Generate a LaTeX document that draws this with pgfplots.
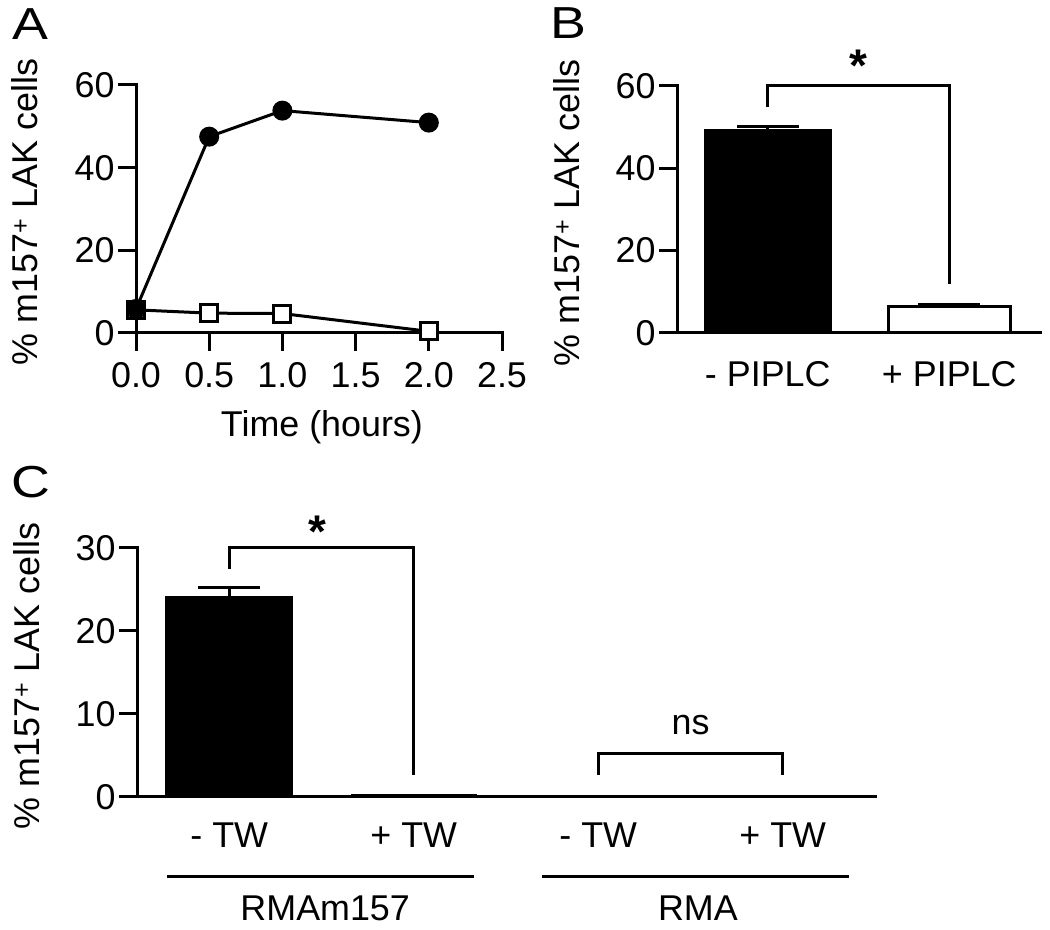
\documentclass[border=0pt]{standalone}
\usepackage{fontspec}
\setmainfont{Liberation Sans}
\usepackage{graphicx}
\usepackage{pgfplots}
\pgfplotsset{compat=1.18}
\pgfplotsset{
  gp/.style={
    scale only axis,
    anchor=south west,
    axis lines=left,
    axis line style={-, line width=3bp, line cap=rect},
    tick style={line width=3bp, black},
    tick align=outside,
    major tick length=18bp,
    /pgf/number format/assume math mode=true,
    tick label style={font=\fontsize{36}{42}\selectfont},
    label style={font=\fontsize{36}{42}\selectfont},
    clip=false,
  },
  eb/.style={forget plot, draw=none, mark=none,
    error bars/.cd, y dir=plus, y explicit, error mark=-,
    error bar style={draw=black, line width=3bp},
    error mark options={draw=black, rotate=90, mark size=#1, line width=3bp}},
}
\newcommand{\ylab}{\% m157\textsuperscript{+} LAK cells}
\newcommand{\plab}[1]{\scalebox{1.2}[1]{#1}}
\begin{document}
\begin{tikzpicture}[x=1bp,y=1bp]
\useasboundingbox (0,0) rectangle (1050,930);

% ---------------- Panel A ----------------
\begin{axis}[gp, at={(136bp,597bp)}, width=366bp, height=248bp,
  xmin=0, xmax=2.5, ymin=0, ymax=60,
  xtick={0,0.5,1,1.5,2,2.5}, ytick={0,20,40,60},
  xticklabel style={yshift=-8bp, /pgf/number format/.cd, fixed, fixed zerofill, precision=1},
  xlabel={Time (hours)},
  xlabel style={at={(axis description cs:0.508,-0.418)}, anchor=base},
  ylabel={\ylab},
  ylabel style={at={(axis description cs:-0.303,0.488)}, anchor=center},
]
\addplot[black, line width=3bp, mark=square*, mark size=8.5bp,
  mark options={fill=white, line width=3bp}]
  coordinates {(0,5.6) (0.5,4.8) (1,4.7) (2,0.4)};
\addplot[black, line width=3bp, mark=*, mark size=8.5bp,
  mark options={fill=black, line width=3bp}]
  coordinates {(0,5.8) (0.5,47.5) (1,53.8) (2,50.9)};
\end{axis}
\node[anchor=base west, inner sep=0, font=\fontsize{45}{50}\selectfont] at (12bp,890bp) {\plab{A}};

% ---------------- Panel B ----------------
\begin{axis}[gp, at={(677bp,597bp)}, width=363bp, height=247bp,
  xmin=-0.5, xmax=1.5, ymin=0, ymax=60,
  xtick={0,1}, xticklabels={- PIPLC,+ PIPLC},
  x tick style={draw=none},
  xticklabel style={anchor=base, yshift=-36bp},
  ytick={0,20,40,60},
  ylabel={\ylab},
  ylabel style={at={(axis description cs:-0.303,0.486)}, anchor=center},
]
\addplot[ybar, bar width=125bp, bar shift=0pt, fill=black, draw=black, line width=3bp]
  coordinates {(0,49.3)};
\addplot[ybar, bar width=122bp, bar shift=0pt, fill=white, draw=black, line width=3bp]
  coordinates {(1,6.5)};
\addplot[eb=31bp] coordinates {(0,49.3) +- (0,0.8) (1,6.5) +- (0,0.5)};
\draw[line width=3bp] (axis cs:0,54.8) -- (axis cs:0,60) -- (axis cs:1,60) -- (axis cs:1,11.9);
\node[anchor=base, inner sep=0, font=\fontsize{46}{46}\selectfont\bfseries] at (axis cs:0.5,61) {*};
\end{axis}
\node[anchor=base west, inner sep=0, font=\fontsize{45}{50}\selectfont] at (550bp,891bp) {\plab{B}};

% ---------------- Panel C ----------------
\begin{axis}[gp, at={(137bp,133bp)}, width=738bp, height=249bp,
  xmin=-0.5, xmax=3.5, ymin=0, ymax=30,
  xtick={0,1,2,3}, xticklabels={- TW,+ TW,- TW,+ TW},
  x tick style={draw=none},
  xticklabel style={anchor=base, yshift=-33bp},
  ytick={0,10,20,30},
  ylabel={\ylab},
  ylabel style={at={(axis description cs:-0.15,0.486)}, anchor=center},
]
\addplot[ybar, bar width=125bp, bar shift=0pt, fill=black, draw=black, line width=3bp]
  coordinates {(0,24.0)};
\addplot[ybar, bar width=124bp, bar shift=0pt, fill=white, draw=black, line width=2bp]
  coordinates {(1,0.2) (2,0.15) (3,0.12)};
\addplot[eb=31bp] coordinates {(0,24.0) +- (0,1.2)};
\draw[line width=3bp] (axis cs:0,27.5) -- (axis cs:0,30) -- (axis cs:1,30) -- (axis cs:1,2.65);
\draw[line width=3bp] (axis cs:2,2.65) -- (axis cs:2,5.2) -- (axis cs:3,5.2) -- (axis cs:3,2.65);
\node[anchor=base, inner sep=0, font=\fontsize{46}{46}\selectfont\bfseries] at (axis cs:0.48,30.1) {*};
\node[anchor=base, inner sep=0, font=\fontsize{36}{42}\selectfont] at (axis cs:2.5,7.47) {ns};
\draw[line width=3bp] (axis cs:-0.336,-9.52) -- (axis cs:1.328,-9.52);
\draw[line width=3bp] (axis cs:1.697,-9.52) -- (axis cs:3.36,-9.52);
\node[anchor=base, inner sep=0, font=\fontsize{36}{42}\selectfont] at (axis cs:0.52,-14.9) {RMAm157};
\node[anchor=base, inner sep=0, font=\fontsize{36}{42}\selectfont] at (axis cs:2.54,-14.9) {RMA};
\end{axis}
\node[anchor=base west, inner sep=0, font=\fontsize{45}{50}\selectfont] at (11bp,432bp) {\plab{C}};
\end{tikzpicture}
\end{document}
